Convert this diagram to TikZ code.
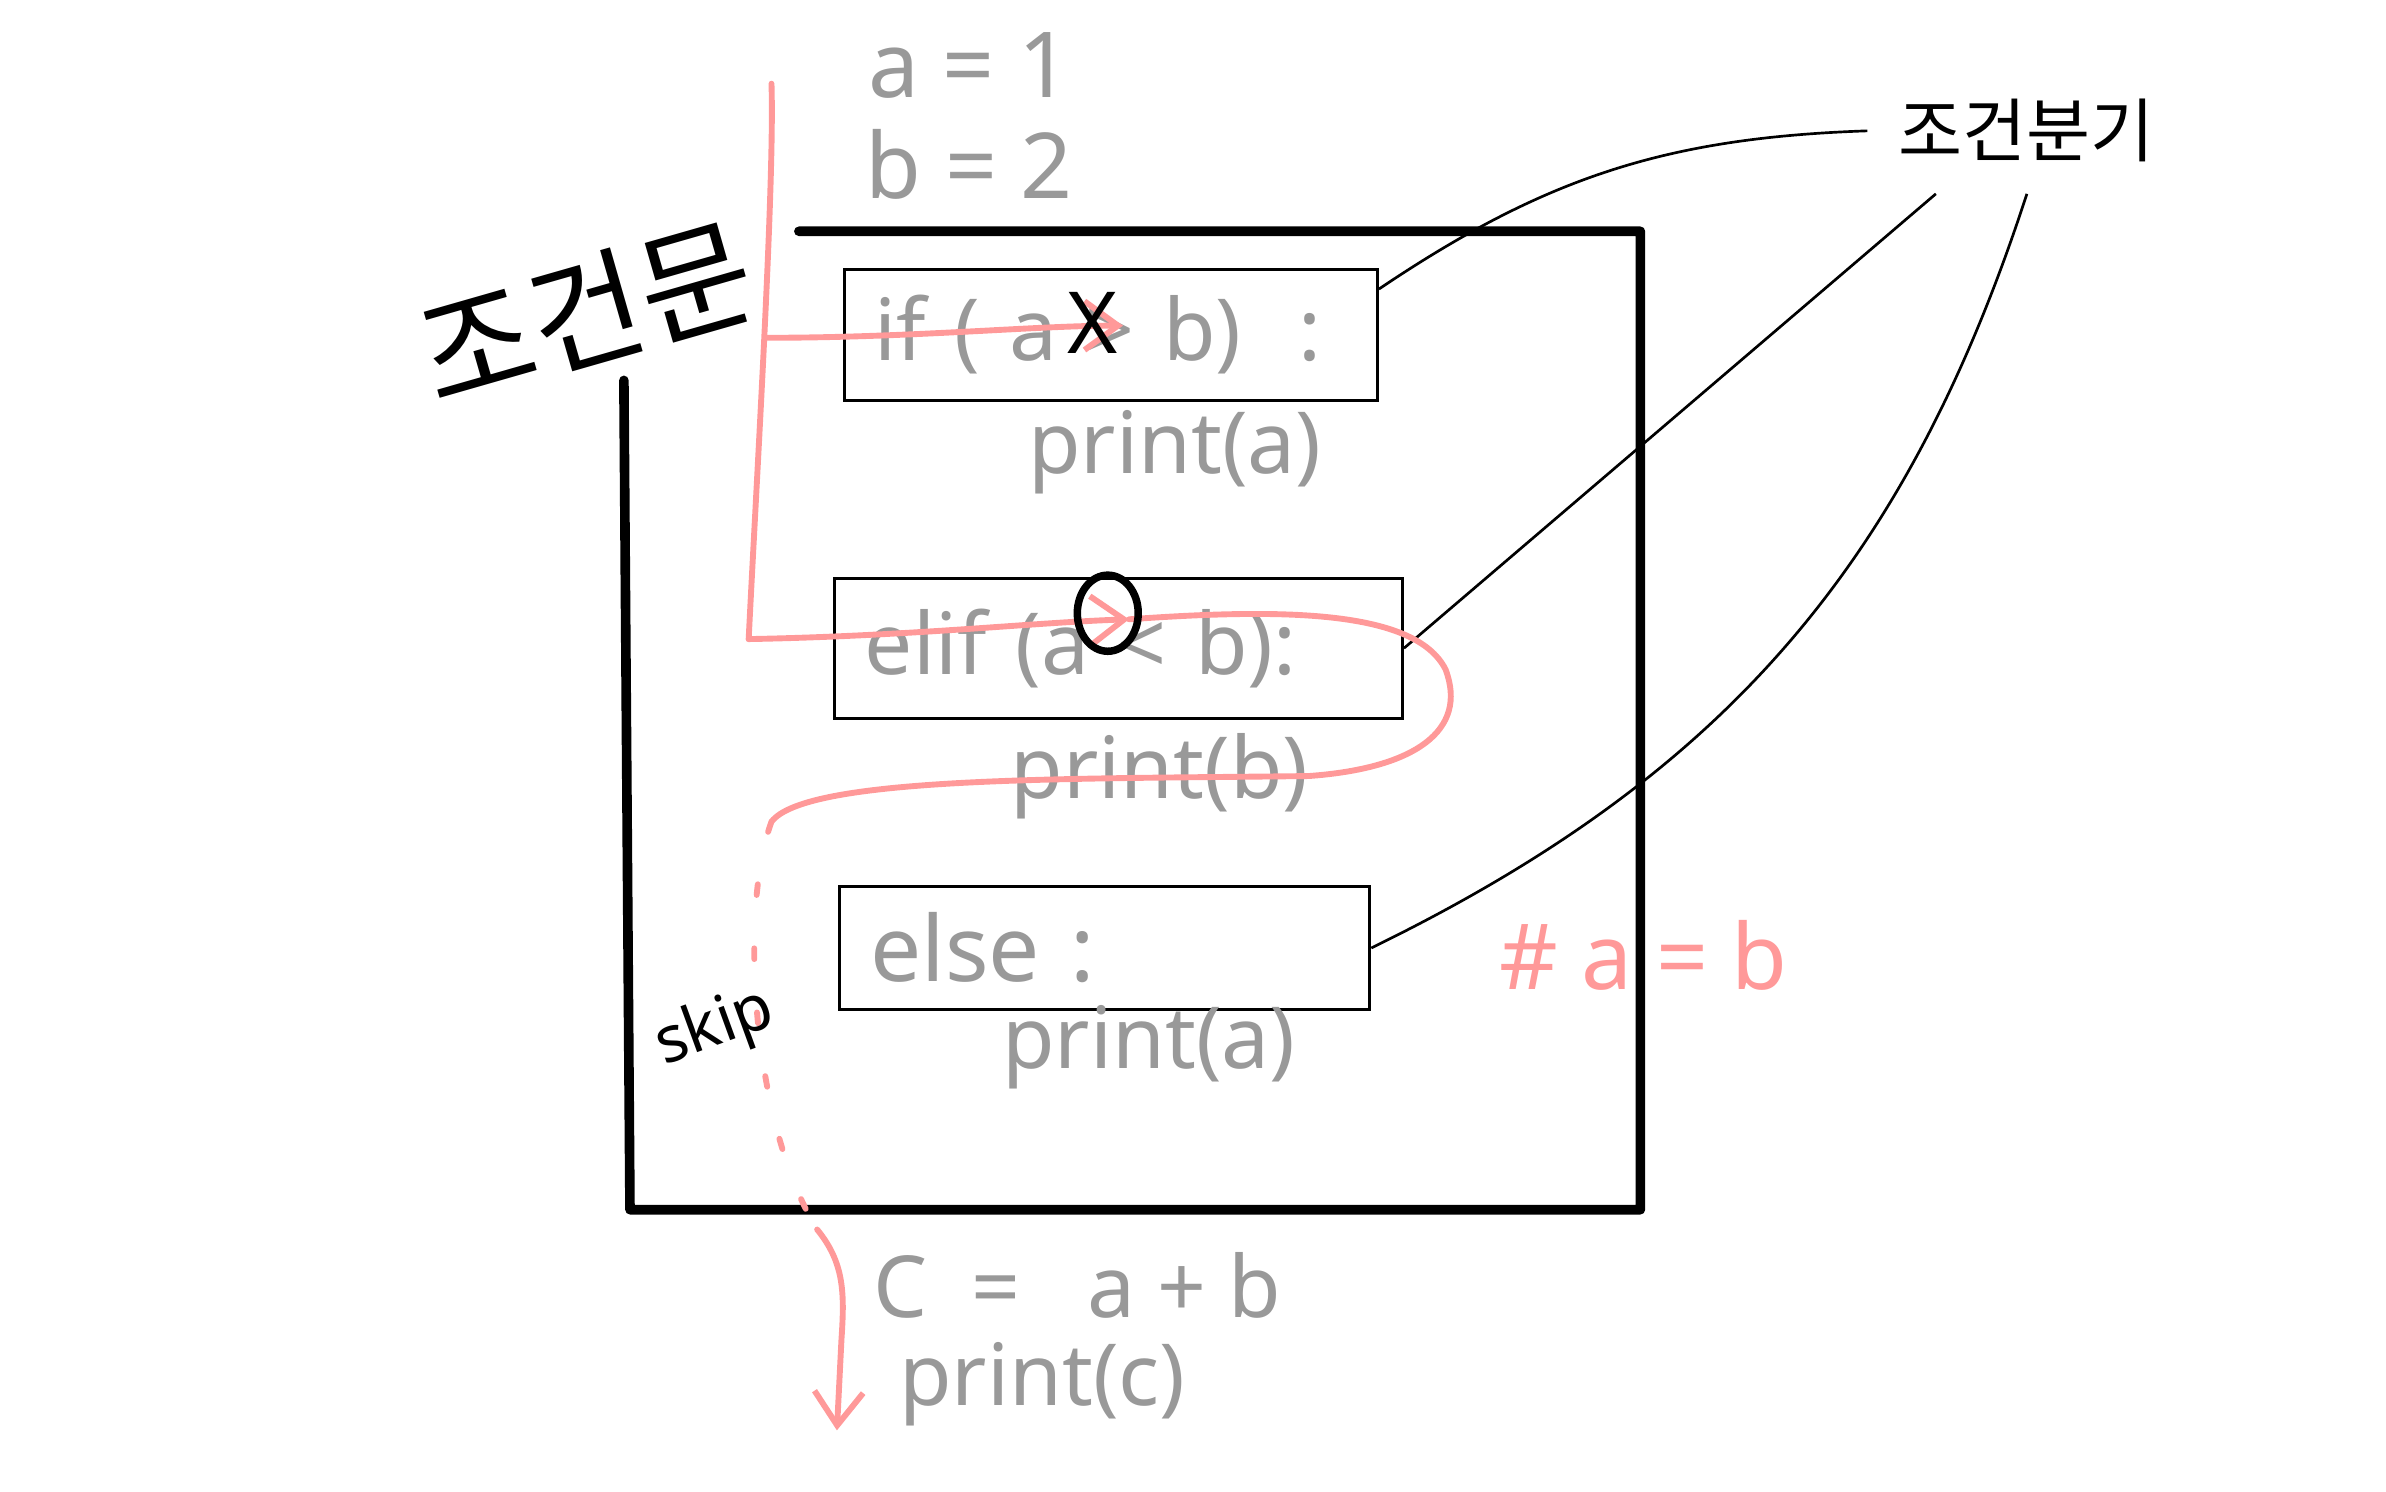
\documentclass[tikz,border=0pt]{standalone}
\usepackage{fontspec}
\setmainfont{Noto Sans}
\newfontfamily\hangul{Noto Sans CJK KR}
\usetikzlibrary{positioning,shapes.geometric,arrows.meta}
\definecolor{codegray}{RGB}{153,153,153}
\definecolor{flowpink}{RGB}{255,153,153}

\begin{document}
\begin{tikzpicture}[x=0.01cm,y=-0.01cm,
    frame/.style={line width=1.8pt, line cap=round, line join=round},
    branchbox/.style={draw, line width=0.6pt, inner xsep=0.2cm, align=left, text=codegray, font=\fontsize{16}{19}\selectfont},
    code/.style={text=codegray, font=\fontsize{16}{19}\selectfont},
    pointer/.style={line width=0.5pt},
    flow/.style={draw=flowpink, line width=1.1pt, line cap=round},
    flowtip/.style={-{Straight Barb[length=2.2mm,width=3.2mm]}}]
    \useasboundingbox (0,0) rectangle (1568,980);
    % Variables
    \node[code, font=\fontsize{17}{20}\selectfont] (avar) at (637,43) {a = 1};
    \node[code, font=\fontsize{17}{20}\selectfont] (bvar) at (637,108) {b = 2};
    % Outer frame
    \draw[frame] (410,250) -- (414,795) -- (1078,795) -- (1078,152) -- (525,152);
    \node[font=\hangul\fontsize{23}{26}\selectfont, rotate=16] (condlabel) at (385,205) {조건문};
    % Branches
    \node[branchbox, minimum width=3.5cm, minimum height=0.86cm, text width=3.1cm] (ifbox) at (730,220) {if ( a > b) \ :};
    \node[code] (ifprint) at (772,297) {print(a)};
    \node[branchbox, minimum width=3.73cm, minimum height=0.92cm, text width=3.33cm] (elifbox) at (735,426) {elif (a < b):};
    \node[code] (elifprint) at (762,510) {print(b)};
    \node[branchbox, minimum width=3.48cm, minimum height=0.81cm, text width=3.08cm, font=\fontsize{17}{20}\selectfont] (elsebox) at (726,623) {else :};
    \node[code] (elseprint) at (755,688) {print(a)};
    \node[text=flowpink, font=\fontsize{17}{20}\selectfont] (elsenote) at (1080,628) {\# a = b};
    % After the branches
    \node[code] (cvar) at (708,845) {C\ \ =\ \ \ a + b};
    \node[code] (cprint) at (685,910) {print(c)};
    % Label and pointers
    \node[font=\hangul\fontsize{13}{15}\selectfont, inner xsep=0.2cm, inner ysep=0.2cm] (branchlabel) at (1332,86) {조건분기};
    \draw[pointer] (branchlabel.west) to[bend right=16] ([yshift=0.3cm]ifbox.east);
    \draw[pointer] ([xshift=0.45cm]branchlabel.south west) -- (elifbox.east);
    \draw[pointer] (branchlabel.south) to[bend left=23] (elsebox.east);
    % Flow of execution
    \coordinate (flowtop) at (507,55);
    \coordinate (ifsplit) at (503,222);
    \coordinate (noarrow) at (738,214);
    \coordinate (flowturn) at (492,420);
    \coordinate (yesarrow) at (742,407);
    \coordinate (skipstart) at (507,540);
    \coordinate (skipend) at (537,808);
    \coordinate (flowend) at (550,940);
    \draw[flow] (flowtop) .. controls (509,120) and (498,300) .. (flowturn);
    \draw[flow, flowtip] (ifsplit) .. controls (600,222) and (680,214) .. (noarrow);
    \draw[flow, flowtip] (flowturn) .. controls (600,418) and (680,409) .. (yesarrow);
    \draw[flow] (yesarrow) .. controls (840,400) and (930,400) .. (950,440)
        .. controls (965,480) and (930,505) .. (860,510)
        .. controls (700,512) and (530,510) .. (skipstart);
    \draw[flow, dash pattern=on 2pt off 10pt] (skipstart) .. controls (485,600) and (495,740) .. (skipend);
    \draw[flow, flowtip] (skipend) .. controls (555,830) and (555,850) .. (553,880) -- (flowend);
    \node[font=\fontsize{12}{14}\selectfont, rotate=20] (skiplabel) at (470,676) {skip};
    % Marks
    \node[font=\fontsize{16}{18}\selectfont] (xmark) at (718,212) {X};
    \node[draw, ellipse, line width=1.4pt, minimum width=0.4cm, minimum height=0.5cm, inner sep=0pt] (omark) at (728,403) {};
\end{tikzpicture}
\end{document}
